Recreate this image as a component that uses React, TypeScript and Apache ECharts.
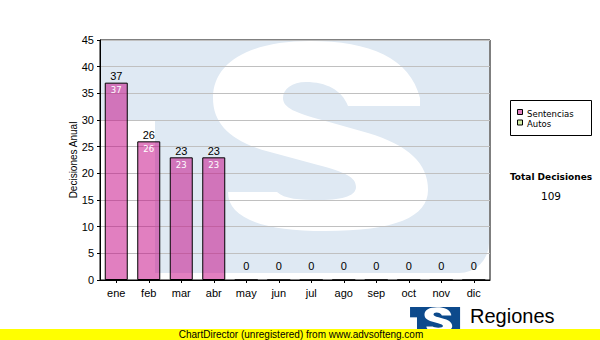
import React, { useEffect, useRef } from 'react';
import * as echarts from 'echarts';

// ---- data ----
const months = ['ene', 'feb', 'mar', 'abr', 'may', 'jun', 'jul', 'ago', 'sep', 'oct', 'nov', 'dic'];
const sentencias = [37, 26, 23, 23, 0, 0, 0, 0, 0, 0, 0, 0];
const autos = [0, 0, 0, 0, 0, 0, 0, 0, 0, 0, 0, 0];
const seriesNames = ['Sentencias', 'Autos'];
const yMin = 0;
const yMax = 45;
const yStep = 5;

const totals = months.map((_, i) => sentencias[i] + autos[i]);
const grandTotal = totals.reduce((a, b) => a + b, 0);

// ---- decorative watermark "S" ----
const S_PATH =
  'M 420 98 L 420 106 L 348 106 C 342 90 326 82 306 82 C 292 82 283 89 283 98 ' +
  'C 283 108 296 113 322 120 L 368 133 C 408 145 428 163 428 190 ' +
  'C 428 217 395 231 325 231 C 262 231 228 218 228 192 L 277 192 ' +
  'C 284 199 300 200 320 200 C 345 200 356 195 356 187 C 356 177 345 172 318 165 ' +
  'L 270 152 C 232 142 213 125 213 98 C 213 62 250 41 310 41 C 370 41 410 58 420 98 Z';
echarts.graphic.registerShape('wmS', echarts.graphic.extendPath(S_PATH, {}));

const pinkFill = 'rgba(196,0,130,0.5)';
const greenFill = 'rgba(170,220,80,0.5)';
const legendColors = [pinkFill, greenFill];

function logoChildren(blue: string, white: string, zBase: number) {
  return [
    { type: 'rect', z: zBase, shape: { x: 101, y: 40, width: 60, height: 80 }, style: { fill: blue } },
    { type: 'rect', z: zBase, shape: { x: 155, y: 40, width: 334, height: 233, r: [0, 0, 30, 0] }, style: { fill: blue } },
    { type: 'wmS', z: zBase + 1, x: 0, y: 0, style: { fill: white } },
  ];
}

export default function App() {
  const ref = useRef<HTMLDivElement>(null);

  useEffect(() => {
    if (!ref.current) return;
    const chart = echarts.init(ref.current, null, { renderer: 'svg' });

    const legendGraphics: any[] = [
      {
        type: 'rect', z: 20,
        shape: { x: 510.5, y: 100.5, width: 81, height: 35 },
        style: { fill: '#fff', stroke: '#000', lineWidth: 1 },
      },
    ];
    seriesNames.forEach((name, i) => {
      legendGraphics.push({
        type: 'rect', z: 21,
        shape: { x: 517.5, y: 109.5 + i * 10.5, width: 5, height: 5 },
        style: { fill: legendColors[i], stroke: '#000', lineWidth: 1 },
      });
      legendGraphics.push({
        type: 'text', z: 21,
        x: 527, y: 113.5 + i * 10.5,
        style: { text: name, fill: '#000', fontSize: 8.5, fontFamily: 'DejaVu Sans', align: 'left', verticalAlign: 'middle' },
      });
    });

    chart.setOption({
      animation: false,
      backgroundColor: '#fff',
      grid: {
        left: 100, right: 110, top: 40, bottom: 60,
        show: true, borderColor: '#000', borderWidth: 1, backgroundColor: 'transparent',
      },
      xAxis: {
        type: 'category',
        data: months,
        axisLine: { show: true, lineStyle: { color: '#000', width: 1 } },
        axisTick: { show: true, alignWithLabel: true, length: 3, lineStyle: { color: '#000' } },
        axisLabel: { color: '#000', fontSize: 11, fontFamily: 'Liberation Sans', margin: 7 },
        splitLine: { show: false },
      },
      yAxis: {
        type: 'value',
        min: yMin, max: yMax, interval: yStep,
        name: 'Decisiones Anual',
        nameLocation: 'middle',
        nameGap: 22,
        nameMoveOverlap: false,
        nameTextStyle: { color: '#000', fontSize: 10, fontFamily: 'Liberation Sans' },
        axisLine: { show: true, lineStyle: { color: '#000', width: 1 } },
        axisTick: { show: true, length: 3, lineStyle: { color: '#000' } },
        axisLabel: { color: '#000', fontSize: 11, fontFamily: 'Liberation Sans', margin: 6 },
        splitLine: { show: true, lineStyle: { color: '#c0c0c0', width: 1 } },
      },
      series: [
        {
          name: seriesNames[0],
          type: 'bar',
          stack: 'total',
          barWidth: 23,
          data: sentencias,
          itemStyle: { color: pinkFill, borderColor: '#000', borderWidth: 1 },
          label: {
            show: true,
            position: 'insideTop',
            distance: 3,
            color: '#fff',
            fontSize: 8.5,
            fontFamily: 'DejaVu Sans',
            formatter: (p: any) => (p.value ? String(p.value) : ''),
          },
        },
        {
          name: seriesNames[1],
          type: 'bar',
          stack: 'total',
          barWidth: 23,
          data: autos.map((v, i) => ({ value: v, label: { distance: totals[i] ? 1 : 9 } })),
          itemStyle: { color: greenFill, borderWidth: 0 },
          label: {
            show: true,
            position: 'top',
            color: '#000',
            fontSize: 11,
            fontFamily: 'Liberation Sans',
            formatter: (p: any) => String(totals[p.dataIndex]),
          },
        },
      ],
      graphic: {
        elements: [
          ...logoChildren('#dfe9f3', '#ffffff', -10),
          ...legendGraphics,
          {
            type: 'text', z: 20, x: 551, y: 177,
            style: { text: 'Total Decisiones', fill: '#000', fontSize: 9, fontWeight: 'bold', fontFamily: 'DejaVu Sans', align: 'center', verticalAlign: 'middle' },
          },
          {
            type: 'text', z: 20, x: 551, y: 196,
            style: { text: String(grandTotal), fill: '#000', fontSize: 10.5, fontFamily: 'DejaVu Sans', align: 'center', verticalAlign: 'middle' },
          },
          {
            type: 'group', z: 40, x: 397, y: 301.85, scaleX: 0.1289, scaleY: 0.1289,
            children: logoChildren('#0d4a8c', '#ffffff', 40),
          },
          {
            type: 'text', z: 40, x: 470, y: 316,
            style: { text: 'Regiones', fill: '#000', fontSize: 20, fontFamily: 'Liberation Sans', align: 'left', verticalAlign: 'middle' },
          },
          {
            type: 'text', z: 40, x: 466, y: 333,
            style: { text: 'Tribunal Supremo de Justicia', fill: '#000', fontSize: 10, fontFamily: 'Liberation Sans', align: 'left', verticalAlign: 'middle' },
          },
          {
            type: 'rect', z: 60,
            shape: { x: 0, y: 329, width: 600, height: 11 },
            style: { fill: '#ffff00' },
          },
          {
            type: 'text', z: 61, x: 301, y: 334.5,
            style: { text: 'ChartDirector (unregistered) from www.advsofteng.com', fill: '#000', fontSize: 10, fontFamily: 'Liberation Sans', align: 'center', verticalAlign: 'middle' },
          },
        ],
      },
    });

    return () => chart.dispose();
  }, []);

  return <div ref={ref} style={{ position: 'absolute', left: 0, top: 0, width: 600, height: 340 }} />;
}
